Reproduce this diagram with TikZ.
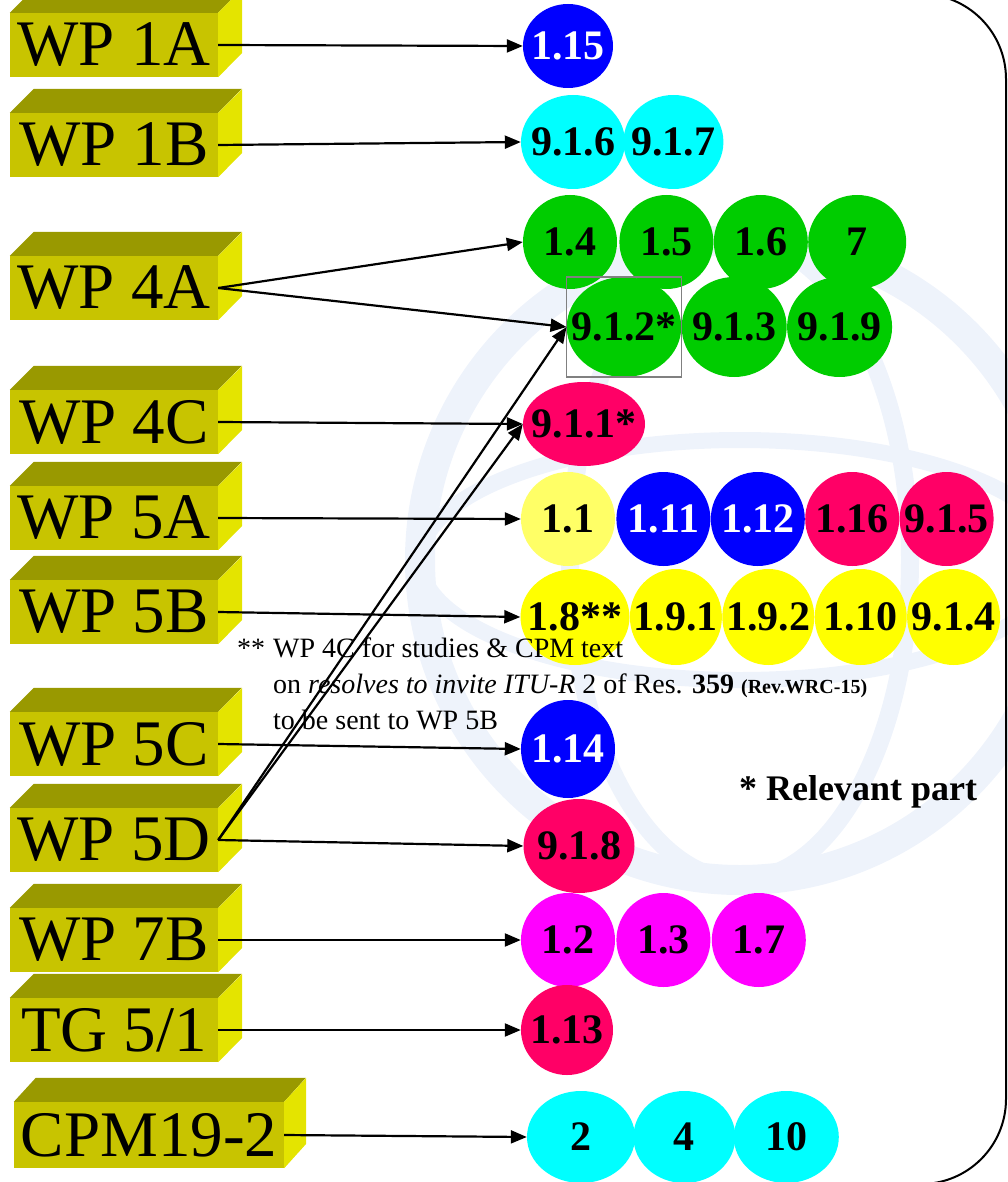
\documentclass[tikz,border=0pt]{standalone}
\usepackage{fontspec}
\setmainfont{Liberation Serif}
\usepackage{xcolor}
\usepackage{tikz}
\usetikzlibrary{shapes.geometric,arrows.meta,positioning,fit}

\definecolor{wpfront}{RGB}{200,196,0}
\definecolor{wptop}{RGB}{153,153,0}
\definecolor{wpside}{RGB}{228,228,0}
\definecolor{itublue}{RGB}{0,0,255}
\definecolor{itucyan}{RGB}{0,255,255}
\definecolor{itugreen}{RGB}{0,204,0}
\definecolor{itured}{RGB}{255,0,102}
\definecolor{ituyellow}{RGB}{255,255,0}
\definecolor{itulight}{RGB}{255,255,102}
\definecolor{itumag}{RGB}{255,0,255}
\definecolor{wmark}{RGB}{238,243,251}

\begin{document}
\begin{tikzpicture}[x=1pt, y=-1pt,
    wpbox/.style={fill=wpfront, minimum height=64pt, inner sep=0pt, font=\fontsize{65}{66}\selectfont},
    issue/.style={ellipse, inner xsep=-12pt, inner ysep=0pt, minimum width=94pt, minimum height=94pt, font=\fontsize{42}{44}\selectfont\bfseries},
    bl/.style={issue, fill=itublue, text=white},
    cy/.style={issue, fill=itucyan},
    gr/.style={issue, fill=itugreen},
    rd/.style={issue, fill=itured},
    ye/.style={issue, fill=ituyellow},
    mg/.style={issue, fill=itumag},
    link/.style={-{Triangle[length=16pt,width=13pt]}, line width=2.2pt}
]
    \useasboundingbox (0,0) rectangle (1008,1182);
    \clip (0,0) rectangle (1008,1182);

    % Watermark globe
    \draw[wmark, line width=30pt] (740,560) circle[radius=320];
    \draw[wmark, line width=18pt] (740,560) ellipse[x radius=170, y radius=320];
    \draw[wmark, line width=16pt] (740,560) ellipse[x radius=320, y radius=120];

    % Frame
    \draw[line width=2pt, rounded corners=85pt] (-200,-6) rectangle (1006,1184);

    % Working parties
    \foreach \n/\t/\y in {wp1a/{WP 1A}/45, wp1b/{WP 1B}/145, wp4a/{WP 4A}/288, wp4c/{WP 4C}/422,
        wp5a/{WP 5A}/518, wp5b/{WP 5B}/612, wp5c/{WP 5C}/744, wp5d/{WP 5D}/840,
        wp7b/{WP 7B}/940, tg51/{TG 5/1}/1030} {
        \node[wpbox, minimum width=208pt] (\n) at (114,\y) {\t};
        \fill[wptop] (\n.north west) -- ++(24,-24) -- ++(208,0) -- (\n.north east) -- cycle;
        \fill[wpside] (\n.north east) -- ++(24,-24) -- ++(0,64) -- (\n.south east) -- cycle;
    }
    \node[wpbox, minimum width=270pt, minimum height=66pt] (cpm) at (149,1135) {CPM19-2};
    \fill[wptop] (cpm.north west) -- ++(22,-24) -- ++(270,0) -- (cpm.north east) -- cycle;
    \fill[wpside] (cpm.north east) -- ++(22,-24) -- ++(0,66) -- (cpm.south east) -- cycle;

    % Agenda items
    \node[bl, minimum width=90pt, minimum height=84pt] (i115) at (568,46) {1.15};

    \node[cy, minimum width=104pt] (i916) at (573,142) {9.1.6};
    \node[cy, minimum width=100pt, right=-2pt of i916] (i917) {9.1.7};

    \node[gr] (i14) at (570,242) {1.4};
    \node[gr, right=2pt of i14] (i15) {1.5};
    \node[gr, right=0pt of i15] (i16) {1.6};
    \node[gr, minimum width=98pt, right=0pt of i16] (i7) {7};

    \node[gr, minimum width=113pt, minimum height=100pt] (i912) at (624,327) {9.1.2*};
    \node[gr, minimum width=105pt, minimum height=100pt, right=0pt of i912] (i913) {9.1.3};
    \node[gr, minimum width=105pt, minimum height=100pt, right=0pt of i913] (i919) {9.1.9};

    \node[rd, minimum width=122pt, minimum height=84pt] (i911) at (584,424) {9.1.1*};

    \node[issue, fill=itulight] (i11) at (568,519) {1.1};
    \node[bl, right=1pt of i11] (i111) {1.11};
    \node[bl, right=0pt of i111] (i112) {1.12};
    \node[rd, right=0pt of i112] (i116) {1.16};
    \node[rd, right=0pt of i116] (i915) {9.1.5};

    \node[ye, minimum width=109pt, minimum height=96pt] (i18) at (575,617) {1.8**};
    \node[ye, minimum width=92pt, minimum height=96pt, right=0pt of i18] (i191) {1.9.1};
    \node[ye, minimum width=92pt, minimum height=96pt, right=0pt of i191] (i192) {1.9.2};
    \node[ye, minimum width=92pt, minimum height=96pt, right=0pt of i192] (i110) {1.10};
    \node[ye, minimum width=93pt, minimum height=96pt, right=0pt of i110] (i914) {9.1.4};

    \node[bl, minimum height=98pt] (i114) at (568,749) {1.14};

    \node[rd, minimum width=111pt] (i918) at (579,846) {9.1.8};

    \node[mg] (i12) at (568,940) {1.2};
    \node[mg, right=1pt of i12] (i13) {1.3};
    \node[mg, right=1pt of i13] (i17) {1.7};

    \node[rd, minimum width=92pt, minimum height=90pt] (i113) at (567,1030) {1.13};

    \node[cy, minimum width=108pt, minimum height=92pt] (i2) at (581,1137) {2};
    \node[cy, minimum width=102pt, minimum height=92pt, right=-2pt of i2] (i4) {4};
    \node[cy, minimum width=105pt, minimum height=92pt, right=-2pt of i4] (i10) {10};

    % Relevant part marker
    \node[draw=gray, line width=1.5pt, fit=(i912), inner sep=0pt] (hl) {};

    % Links
    \draw[link] (wp1a.east) -- (i115.west);
    \draw[link] (wp1b.east) -- (i916.west);
    \draw[link] (wp4a.east) -- (i14.west);
    \draw[link] (wp4a.east) -- (i912.west);
    \draw[link] (wp4c.east) -- (i911.west);
    \draw[link] (wp5a.east) -- (i11.west);
    \draw[link] (wp5b.east) -- (i18.west);
    \draw[link] (wp5c.east) -- (i114.west);
    \draw[link] (wp5d.east) -- (i918.west);
    \draw[link] (wp5d.east) -- (i912.west);
    \draw[link] (wp5d.east) -- (i911.west);
    \draw[link] (wp7b.east) -- (i12.west);
    \draw[link] (tg51.east) -- (i113.west);
    \draw[link] (cpm.east) -- (i2.west);

    % Notes
    \node[anchor=north west, align=left, inner sep=0pt, font=\fontsize{28}{36}\selectfont] (note) at (237,638)
        {\makebox[36pt][l]{**}WP 4C for studies \& CPM text\\
         \hspace*{36pt}on \textit{resolves to invite ITU-R} 2 of Res. \textbf{359} {\fontsize{20}{36}\selectfont\bfseries (Rev.WRC-15)}\\
         \hspace*{36pt}to be sent to WP 5B};
    \node[anchor=base, font=\fontsize{36}{40}\selectfont\bfseries] (relev) at (858,800) {* Relevant part};
\end{tikzpicture}
\end{document}
